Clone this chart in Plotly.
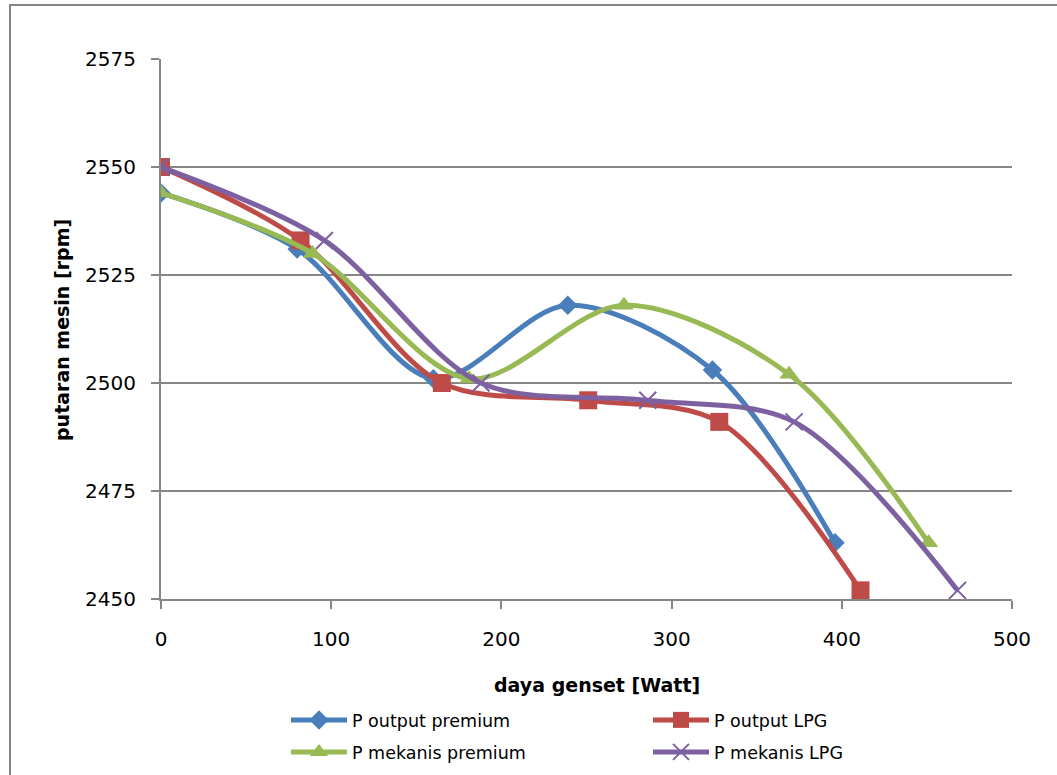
import plotly.graph_objects as go

# Data
x_out_premium = [0, 80, 160, 239, 324, 396]
y_out_premium = [2544, 2531, 2501, 2518, 2503, 2463]

x_out_lpg = [0, 82, 165, 251, 328, 411]
y_out_lpg = [2550, 2533, 2500, 2496, 2491, 2452]

x_mek_premium = [0, 89, 181, 272, 369, 451]
y_mek_premium = [2544, 2530, 2501, 2518, 2502, 2463]

x_mek_lpg = [0, 96, 188, 286, 372, 468]
y_mek_lpg = [2550, 2533, 2500, 2496, 2491, 2452]

names = ["P output premium", "P output LPG", "P mekanis premium", "P mekanis LPG"]
x_ticks = [0, 100, 200, 300, 400, 500]
y_ticks = [2450, 2475, 2500, 2525, 2550, 2575]

BLUE = "#4A7EBB"
RED = "#BE4B48"
GREEN = "#98B954"
PURPLE = "#7D60A0"

W, H = 1057, 775
L, R, T, B = 161, 45, 59, 176
pw, ph = W - L - R, H - T - B

def px_to_paper_x(px):
    return (px - L) / pw

def px_to_paper_y(py):
    return (H - B - py) / ph

fig = go.Figure()

series = [
    (x_out_premium, y_out_premium, names[0], BLUE, dict(symbol="diamond", size=15, color=BLUE), "legend"),
    (x_out_lpg, y_out_lpg, names[1], RED, dict(symbol="square", size=18, color=RED), "legend2"),
    (x_mek_premium, y_mek_premium, names[2], GREEN, dict(symbol="triangle-up", size=17, color=GREEN), "legend3"),
    (x_mek_lpg, y_mek_lpg, names[3], PURPLE, dict(symbol="x-thin", size=17, color=PURPLE,
                                                   line=dict(color=PURPLE, width=2)), "legend4"),
]

for xs, ys, nm, col, mk, lg in series:
    fig.add_trace(go.Scatter(
        x=xs, y=ys, name=nm, mode="lines+markers",
        line=dict(color=col, width=5, shape="spline", smoothing=0.9),
        marker=mk, legend=lg,
    ))

legend_font = dict(family="DejaVu Sans", size=17.5, color="#000000")
leg_common = dict(orientation="v", xanchor="left", yanchor="middle", font=legend_font,
                  bgcolor="rgba(0,0,0,0)", itemwidth=56, tracegroupgap=0)

fig.update_layout(
    width=W, height=H,
    margin=dict(l=L, r=R, t=T, b=B, autoexpand=False),
    paper_bgcolor="white", plot_bgcolor="white",
    font=dict(family="DejaVu Sans", size=18, color="#000000"),
    showlegend=True,
    legend=dict(x=px_to_paper_x(286), y=px_to_paper_y(720), **leg_common),
    legend2=dict(x=px_to_paper_x(648), y=px_to_paper_y(720), **leg_common),
    legend3=dict(x=px_to_paper_x(286), y=px_to_paper_y(752), **leg_common),
    legend4=dict(x=px_to_paper_x(648), y=px_to_paper_y(752), **leg_common),
    xaxis=dict(
        range=[0, 500], tickvals=x_ticks, ticktext=[str(v) for v in x_ticks],
        showgrid=False, zeroline=False,
        showline=True, linecolor="#868686", linewidth=2,
        ticks="outside", ticklen=8, tickcolor="#868686", tickwidth=2,
        ticklabelstandoff=13,
        tickfont=dict(family="DejaVu Sans", size=20, color="#000000"),
    ),
    yaxis=dict(
        range=[2450, 2575], tickvals=y_ticks, ticktext=[str(v) for v in y_ticks],
        showgrid=True, gridcolor="#868686", gridwidth=2, zeroline=False,
        showline=True, linecolor="#868686", linewidth=2,
        ticks="outside", ticklen=8, tickcolor="#868686", tickwidth=2,
        ticklabelstandoff=11,
        tickfont=dict(family="DejaVu Sans", size=20, color="#000000"),
    ),
    annotations=[
        dict(text="<b>daya genset [Watt]</b>", xref="paper", yref="paper",
             x=px_to_paper_x(597), y=px_to_paper_y(685), xanchor="center", yanchor="middle",
             showarrow=False, font=dict(family="DejaVu Sans", size=19, color="#000000")),
        dict(text="<b>putaran mesin [rpm]</b>", xref="paper", yref="paper",
             x=px_to_paper_x(62), y=px_to_paper_y(330), xanchor="center", yanchor="middle",
             textangle=-90, showarrow=False,
             font=dict(family="DejaVu Sans", size=19, color="#000000")),
    ],
    shapes=[
        dict(type="rect", xref="paper", yref="paper",
             x0=px_to_paper_x(10), y0=px_to_paper_y(H + 20),
             x1=px_to_paper_x(W + 20), y1=px_to_paper_y(5),
             line=dict(color="#868686", width=2), fillcolor="rgba(0,0,0,0)", layer="below"),
    ],
)

fig.write_html("out.html")
